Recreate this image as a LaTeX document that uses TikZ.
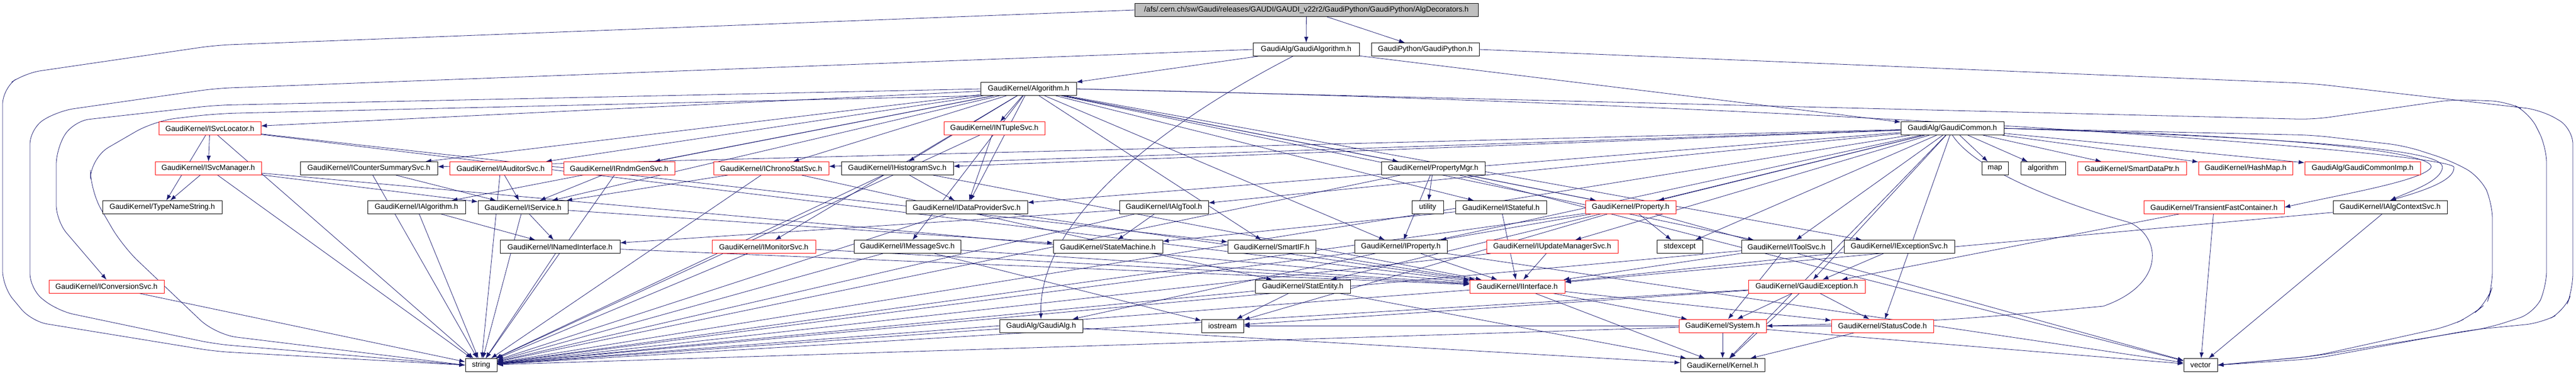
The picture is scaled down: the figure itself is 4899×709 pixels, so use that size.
\documentclass[tikz,border=0pt]{standalone}
\usepackage{fontspec}
\setmainfont{Liberation Sans}
\usetikzlibrary{arrows.meta,backgrounds}
\definecolor{edgeblue}{HTML}{191970}
\definecolor{rootgray}{HTML}{BFBFBF}
\begin{document}
\begin{tikzpicture}[x=1pt,y=-1pt,
 box/.style={draw=black,line width=0.9pt,fill=white,minimum height=25pt,inner sep=0pt,font=\fontsize{14.2}{16}\selectfont},
 rbox/.style={box,draw=red},
 e/.style={draw=edgeblue,line width=0.8pt,-{Latex[length=11pt,width=8pt]}}]
\useasboundingbox (0,0) rectangle (4899,709);
% row 0
\node[box,fill=rootgray,minimum width=653pt] (root) at (2484.5,19) {/afs/.cern.ch/sw/Gaudi/releases/GAUDI/GAUDI\_v22r2/GaudiPython/GaudiPython/AlgDecorators.h};
% row 1
\node[box,minimum width=202pt] (galg) at (2484,94) {GaudiAlg/GaudiAlgorithm.h};
\node[box,minimum width=205pt] (gpy) at (2710.5,94) {GaudiPython/GaudiPython.h};
% row 2
\node[box,minimum width=182pt] (algo) at (1956,169) {GaudiKernel/Algorithm.h};
% row 3
\node[rbox,minimum width=194pt] (isvcloc) at (399,244) {GaudiKernel/ISvcLocator.h};
\node[rbox,minimum width=192pt] (intuple) at (1891,244) {GaudiKernel/INTupleSvc.h};
\node[box,minimum width=196pt] (gcommon) at (3713,244) {GaudiAlg/GaudiCommon.h};
% row 4
\node[rbox,minimum width=202pt] (isvcman) at (396,320) {GaudiKernel/ISvcManager.h};
\node[box,minimum width=261pt] (icounter) at (701.5,320) {GaudiKernel/ICounterSummarySvc.h};
\node[rbox,minimum width=194pt] (iauditor) at (952,320) {GaudiKernel/IAuditorSvc.h};
\node[rbox,minimum width=211pt] (irndm) at (1177.5,320) {GaudiKernel/IRndmGenSvc.h};
\node[rbox,minimum width=219pt] (ichrono) at (1466.5,320) {GaudiKernel/IChronoStatSvc.h};
\node[box,minimum width=213pt] (ihisto) at (1706.5,320) {GaudiKernel/IHistogramSvc.h};
\node[box,minimum width=197pt] (propmgr) at (2725.5,320) {GaudiKernel/PropertyMgr.h};
\node[box,minimum width=50pt] (map) at (3794,320) {map};
\node[box,minimum width=85pt] (algorithm) at (3885.5,320) {algorithm};
\node[rbox,minimum width=207pt] (smartdp) at (4054.5,320) {GaudiKernel/SmartDataPtr.h};
\node[rbox,minimum width=179pt] (hashmap) at (4270.5,320) {GaudiKernel/HashMap.h};
\node[rbox,minimum width=220pt] (gcimp) at (4493,320) {GaudiAlg/GaudiCommonImp.h};
% row 5
\node[box,minimum width=227pt] (typename) at (308.5,394) {GaudiKernel/TypeNameString.h};
\node[box,minimum width=186pt] (ialgorithm) at (792,394) {GaudiKernel/IAlgorithm.h};
\node[box,minimum width=171pt] (iservice) at (994.5,394) {GaudiKernel/IService.h};
\node[box,minimum width=231pt] (idataprov) at (1838.5,394) {GaudiKernel/IDataProviderSvc.h};
\node[box,minimum width=169pt] (ialgtool) at (2213.5,394) {GaudiKernel/IAlgTool.h};
\node[box,minimum width=60pt] (utility) at (2715,394) {utility};
\node[box,minimum width=173pt] (istateful) at (2854.5,394) {GaudiKernel/IStateful.h};
\node[rbox,minimum width=172pt] (property) at (3101,394) {GaudiKernel/Property.h};
\node[rbox,minimum width=267pt] (transient) at (4210.5,394) {GaudiKernel/TransientFastContainer.h};
\node[box,minimum width=217pt] (ialgctx) at (4545.5,394) {GaudiKernel/IAlgContextSvc.h};
% row 6
\node[box,minimum width=228pt] (inamed) at (1065,469) {GaudiKernel/INamedInterface.h};
\node[rbox,minimum width=197pt] (imonitor) at (1452.5,469) {GaudiKernel/IMonitorSvc.h};
\node[box,minimum width=203pt] (imessage) at (1725.5,469) {GaudiKernel/IMessageSvc.h};
\node[box,minimum width=208pt] (statemach) at (2107,469) {GaudiKernel/StateMachine.h};
\node[box,minimum width=167pt] (smartif) at (2418.5,469) {GaudiKernel/SmartIF.h};
\node[box,minimum width=176pt] (iproperty) at (2664,469) {GaudiKernel/IProperty.h};
\node[rbox,minimum width=250pt] (iupdate) at (2952,469) {GaudiKernel/IUpdateManagerSvc.h};
\node[box,minimum width=87pt] (stdexcept) at (3194.5,469) {stdexcept};
\node[box,minimum width=171pt] (itoolsvc) at (3397.5,469) {GaudiKernel/IToolSvc.h};
\node[box,minimum width=210pt] (iexception) at (3612,469) {GaudiKernel/IExceptionSvc.h};
% row 7
\node[rbox,minimum width=219pt] (iconversion) at (202.5,544.5) {GaudiKernel/IConversionSvc.h};
\node[box,minimum width=181pt] (statentity) at (2477.5,544.5) {GaudiKernel/StatEntity.h};
\node[rbox,minimum width=181pt] (iinterface) at (2885.5,544.5) {GaudiKernel/IInterface.h};
\node[rbox,minimum width=222pt] (gexception) at (3436,544.5) {GaudiKernel/GaudiException.h};
% row 8
\node[box,minimum width=158pt] (gaudialg) at (1980,619.5) {GaudiAlg/GaudiAlg.h};
\node[box,minimum width=80pt] (iostream) at (2325,619.5) {iostream};
\node[rbox,minimum width=166pt] (system) at (3276,619.5) {GaudiKernel/System.h};
\node[rbox,minimum width=194pt] (statuscode) at (3580,619.5) {GaudiKernel/StatusCode.h};
% row 9
\node[box,minimum width=60pt] (string) at (915,694) {string};
\node[box,minimum width=160pt] (kernel) at (3276,694) {GaudiKernel/Kernel.h};
\node[box,minimum width=64pt] (vector) at (4185,694) {vector};

\begin{pgfonlayer}{background}
\foreach \a/\b in {root/galg, root/gpy, galg/algo, galg/gcommon,
 algo/isvcloc, algo/icounter, algo/iauditor, algo/irndm, algo/ichrono, algo/ihisto, algo/intuple,
 algo/idataprov, algo/imessage, algo/imonitor, algo/propmgr, algo/istateful, algo/property,
 algo/itoolsvc, algo/iexception, algo/ialgorithm, algo/iservice, algo/iproperty, algo/smartif,
 isvcloc/isvcman, isvcloc/typename, isvcloc/iinterface, isvcloc/string, isvcloc/smartif,
 isvcman/typename, isvcman/iservice, isvcman/string, isvcman/iinterface,
 icounter/iservice, icounter/string, iauditor/iservice, iauditor/string,
 irndm/iservice, irndm/string, ichrono/iservice, ichrono/string, ichrono/statentity,
 ihisto/idataprov, ihisto/string, ihisto/iinterface, intuple/idataprov, intuple/string,
 idataprov/iinterface, idataprov/string, imonitor/iinterface, imonitor/string,
 imessage/iinterface, imessage/string, imessage/iostream,
 ialgorithm/inamed, ialgorithm/string, iservice/inamed, iservice/statemach, iservice/string,
 inamed/iinterface, inamed/string, ialgtool/inamed, ialgtool/statemach, ialgtool/string,
 istateful/statemach, istateful/iinterface, smartif/iinterface,
 propmgr/utility, propmgr/iproperty, propmgr/property, propmgr/vector, propmgr/string,
 iproperty/iinterface, iproperty/string, iproperty/vector,
 property/stdexcept, property/iproperty, property/vector, property/string, property/iostream,
 iupdate/iinterface, iupdate/string, itoolsvc/system, itoolsvc/iinterface, itoolsvc/string,
 iexception/gexception, iexception/iinterface, iconversion/string,
 statentity/iostream, statentity/string, statentity/kernel,
 iinterface/system, iinterface/kernel, iinterface/statuscode, iinterface/string,
 gexception/system, gexception/statuscode, gexception/kernel, gexception/string, gexception/iostream,
 system/kernel, system/string, system/vector, statuscode/kernel, statuscode/iostream,
 gaudialg/kernel, gaudialg/string,
 gcommon/map, gcommon/algorithm, gcommon/smartdp, gcommon/hashmap, gcommon/gcimp,
 gcommon/gaudialg, gcommon/icounter, gcommon/ichrono, gcommon/ialgtool, gcommon/gexception,
 gcommon/statuscode, gcommon/kernel, gcommon/string, gcommon/statentity, gcommon/idataprov,
 gcommon/ihisto, gcommon/itoolsvc, gcommon/property, gcommon/iupdate, gcommon/stdexcept,
 transient/vector, transient/gexception, ialgctx/vector, ialgctx/iinterface}
 {\draw[e] (\a) -- (\b);}
% long loops
\draw[e,rounded corners=30pt] (root.west) -- (410,86) -- (47,139) -- (5,168) -- (5,545) -- (60,611) -- (410,668) -- (string.west);
\draw[e,rounded corners=30pt] (galg.west) -- (410,168) -- (110,211) -- (57,244) -- (57,550) -- (110,591) -- (410,654) -- (string.west);
\draw[e,rounded corners=30pt] (algo.west) -- (410,200) -- (140,230) -- (107,282) -- (107,420) -- (iconversion.north);
\draw[e,rounded corners=40pt] (algo.south west) -- (410,216) -- (293,230) -- (172,300) -- (172,363) -- (233,468) -- (410,636) -- (string.west);
\draw[e,rounded corners=30pt] (gpy.east) -- (4400,159) -- (4833,209) -- (4893,244) -- (4893,550) -- (4877,591) -- (4833,614) -- (4700,627) -- (4400,682) -- (vector.east);
\draw[e,rounded corners=30pt] (algo.east) -- (4400,227) -- (4667,189) -- (4767,193) -- (4810,214) -- (4843,280) -- (4843,545) -- (4820,595) -- (4733,623) -- (4400,677) -- (vector.east);
\draw[e,rounded corners=30pt] (gcommon.east) -- (4400,257) -- (4573,277) -- (4660,305) -- (4717,336) -- (4740,386) -- (4740,545) -- (4730,575) -- (4700,600) -- (4658,620) -- (4400,677) -- (vector.east);
\draw[e] (gcommon.east) .. controls (4500,262) and (4640,300) .. (4622,320) .. controls (4600,345) and (4450,370) .. (transient.east);
\draw[e] (gcommon.east) .. controls (4550,268) and (4645,295) .. (4645,318) .. controls (4643,345) and (4580,365) .. (ialgctx.north);
\draw[e] (algo.east) .. controls (3500,200) and (4665,290) .. (4667,318) .. controls (4668,345) and (4600,365) .. (ialgctx.north);
\draw[e] (galg) .. controls (2200,240) and (1975,420) .. (gaudialg);
\draw[e] (gcommon.south) .. controls (3760,330) and (3950,395) .. (4050,423) .. controls (4110,450) and (4120,540) .. (4000,582) .. controls (3700,610) .. (system.east);
\end{pgfonlayer}
\end{tikzpicture}
\end{document}
